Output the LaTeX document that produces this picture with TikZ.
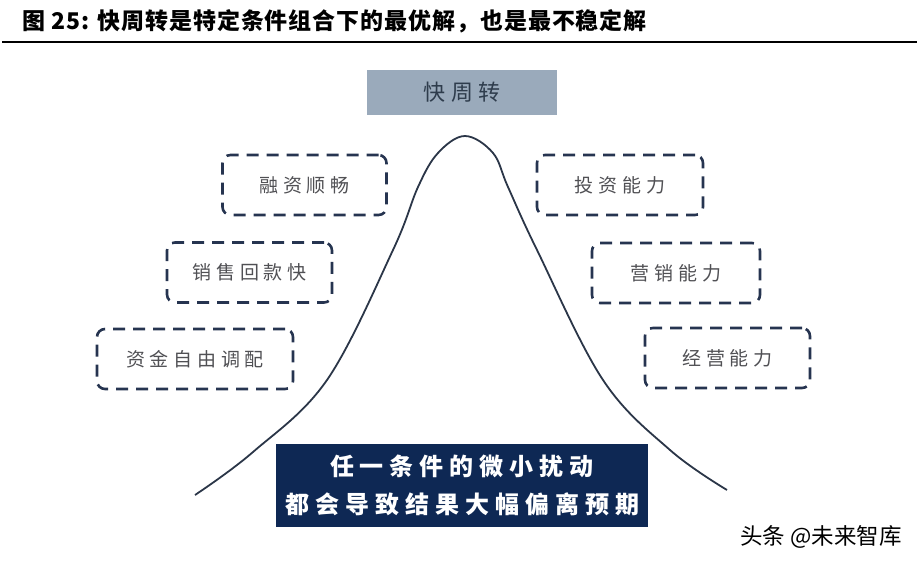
\documentclass[tikz,border=0pt]{standalone}
\usepackage{fontspec}
\newfontfamily\cjk{Noto Sans CJK SC}
\newfontfamily\cjkwide[LetterSpace=25]{Noto Sans CJK SC}
\newfontfamily\cjktitle[LetterSpace=4]{Noto Sans CJK SC}
\usetikzlibrary{calc}

\definecolor{linecol}{RGB}{43,54,72}
\definecolor{dashcol}{RGB}{38,52,80}
\definecolor{peakfill}{RGB}{154,170,187}
\definecolor{peaktext}{RGB}{46,60,76}
\definecolor{navy}{RGB}{14,40,84}
\definecolor{condtext}{RGB}{80,80,84}

\begin{document}
\begin{tikzpicture}[
    x=1pt, y=-1pt,
    cond/.style={draw=dashcol, line width=2.6pt, dash pattern=on 12pt off 8pt,
        rounded corners=8pt, minimum height=60pt, text=condtext,
        font=\cjkwide\fontsize{19}{22}\selectfont},
    peak/.style={fill=peakfill, minimum width=190pt, minimum height=45pt,
        text=peaktext, font=\cjkwide\fontsize{22}{26}\selectfont},
    note/.style={fill=navy, minimum width=372pt, minimum height=83pt, align=center,
        text=white, font=\cjkwide\bfseries\fontsize{24}{38}\selectfont}
]
\useasboundingbox (0,0) rectangle (920,564);

% Title ------------------------------------------------------

\node[anchor=west, inner sep=0pt, font=\cjktitle\bfseries\fontsize{23}{26}\selectfont] (title) at (22,21)
    {图 25: 快周转是特定条件组合下的最优解，也是最不稳定解};
\draw[line width=1.6pt] (2,42) -- (917,42);

% Curve ------------------------------------------------------

\draw[linecol, line width=1.8pt] plot[smooth, tension=0.6] coordinates {
    (195,495) (253,452) (327,380) (393,250) (418,187) (438,153) (465,136)
    (493,153) (508,187) (537,250) (603,380) (670,450) (727,490)};

% Nodes ------------------------------------------------------

\node[peak] (fast) at (462,92.5) {快周转};

\node[cond, minimum width=164pt] (fin) at (304.5,185) {融资顺畅};
\node[cond, minimum width=165pt] (sales) at (249.5,272.5) {销售回款快};
\node[cond, minimum width=196pt] (funds) at (195,359) {资金自由调配};

\node[cond, minimum width=166pt] (invest) at (620,185) {投资能力};
\node[cond, minimum width=168pt] (market) at (676,273) {营销能力};
\node[cond, minimum width=165pt] (oper) at (727.5,358) {经营能力};

\node[note] (warn) at (462,485) {任一条件的微小扰动\\都会导致结果大幅偏离预期};

\node[font=\cjk\fontsize{22.5}{26}\selectfont] (mark) at (821,537) {头条 @未来智库};

\end{tikzpicture}
\end{document}
